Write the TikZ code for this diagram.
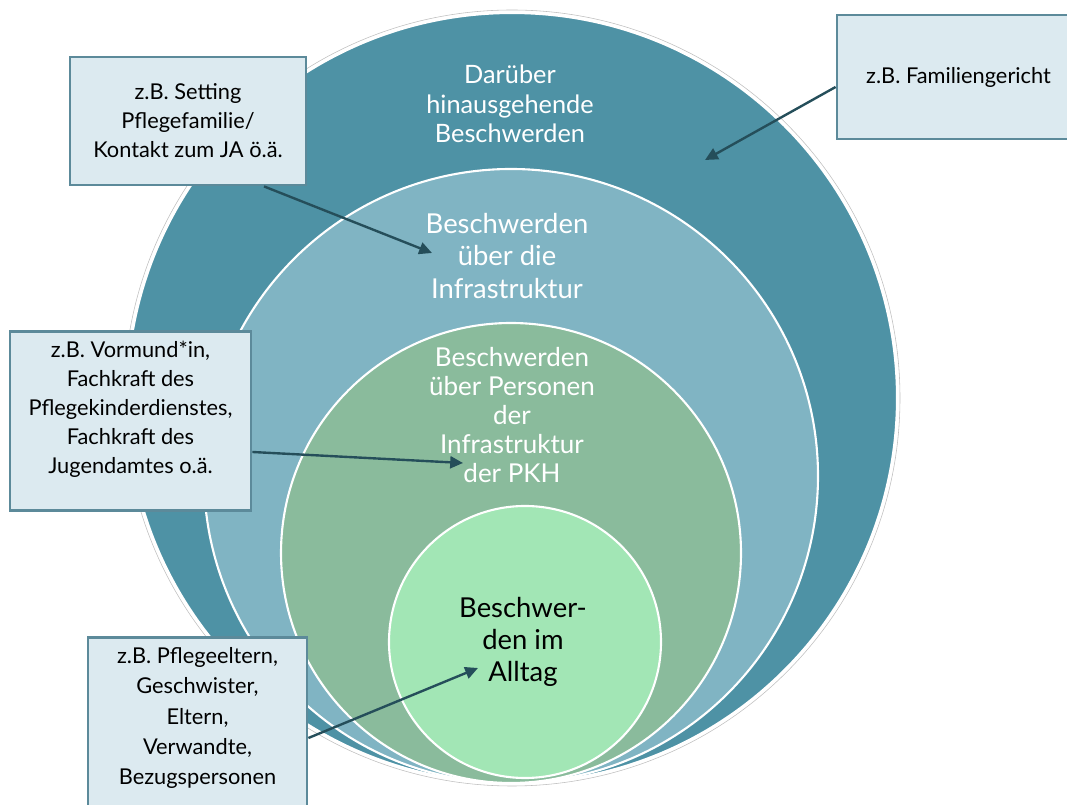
\documentclass[tikz,border=0pt]{standalone}
\usepackage{fontspec}
\setmainfont{Lato}
\usetikzlibrary{arrows.meta, calc, positioning}
\definecolor{ringteal}{RGB}{78,146,165}
\definecolor{ringblue}{RGB}{128,180,195}
\definecolor{ringgreen}{RGB}{138,187,156}
\definecolor{ringmint}{RGB}{162,230,181}
\definecolor{notefill}{RGB}{220,234,240}
\definecolor{noteedge}{RGB}{92,138,154}
\definecolor{arrowslate}{RGB}{37,78,90}
\tikzset{ring/.style={circle, draw=white, line width=1.5pt, inner sep=0pt}}
\tikzset{ringlabel/.style={align=center, text=white}}
\tikzset{note/.style={draw=noteedge, fill=notefill, line width=2pt, align=center, inner sep=0.25cm, font=\fontsize{15.5}{20.6}\selectfont}}
\tikzset{pointer/.style={draw=arrowslate, line width=1.7pt, -{Triangle[length=0.32cm, width=0.3cm]}}}

\begin{document}
\begin{tikzpicture}
            \useasboundingbox (0, 0) rectangle (26.675, 20.125);

            \draw [black!25, line width=0.4pt] (12.8, 10.175) circle (9.7cm);
            \node [ring, fill=ringteal, minimum size=19.25cm] (outerRing) at (12.8, 10.175) {};
            \node [ring, fill=ringblue, minimum size=15.35cm] (infraRing) at (12.775, 8.225) {};
            \node [ring, fill=ringgreen, minimum size=11.5cm] (personRing) at (12.775, 6.3) {};
            \node [ring, fill=ringmint, minimum size=6.8cm] (dailyRing) at (13.125, 4.075) {};

            \node [ringlabel, font=\fontsize{18}{20.8}\selectfont] (outerText) at (12.75, 17.525) {Darüber\\hinausgehende\\Beschwerden};
            \node [ringlabel, font=\fontsize{19.5}{22.8}\selectfont] (infraText) at (12.675, 13.725) {Beschwerden\\über die\\Infrastruktur};
            \node [ringlabel, font=\fontsize{18.5}{20.6}\selectfont] (personText) at (12.8, 9.75) {Beschwerden\\über Personen\\der\\Infrastruktur\\der PKH};
            \node [ringlabel, text=black, font=\fontsize{19.5}{22.8}\selectfont] (dailyText) at (13.075, 4.075) {Beschwer-\\den im\\Alltag};

            \node [note, minimum width=5.9cm, minimum height=3.2cm] (settingNote) at (4.7, 17.1) {z.B. Setting\\Pflegefamilie/\\Kontakt zum JA ö.ä.};
            \node [note, minimum width=6.075cm, minimum height=3.1cm] (courtNote) at (23.9625, 18.2) {z.B. Familiengericht};
            \node [note, anchor=north, minimum width=6.025cm, text depth=0.675cm] (staffNote) at (3.2625, 11.875) {z.B. Vormund*in,\\Fachkraft des\\Pflegekinderdienstes,\\Fachkraft des\\Jugendamtes o.ä.};
            \node [note, anchor=north, minimum width=5.475cm, text depth=1.4cm, font=\fontsize{15.5}{21.6}\selectfont] (familyNote) at (4.9375, 4.225) {z.B. Pflegeeltern,\\Geschwister,\\Eltern,\\Verwandte,\\Bezugspersonen};

            \coordinate (settingTip) at (10.8, 13.8);
            \coordinate (courtTip) at (17.625, 16.125);
            \coordinate (staffTip) at (11.575, 8.55);
            \coordinate (familyTip) at (11.95, 3.425);

            \draw [pointer] ([xshift=1.9cm]settingNote.south) -- (settingTip);
            \draw [pointer] ([yshift=-0.25cm]courtNote.west) -- (courtTip);
            \draw [pointer] ([yshift=-3.05cm]staffNote.north east) -- (staffTip);
            \draw [pointer] ([yshift=-2.55cm]familyNote.north east) -- (familyTip);
        \end{tikzpicture}
\end{document}
